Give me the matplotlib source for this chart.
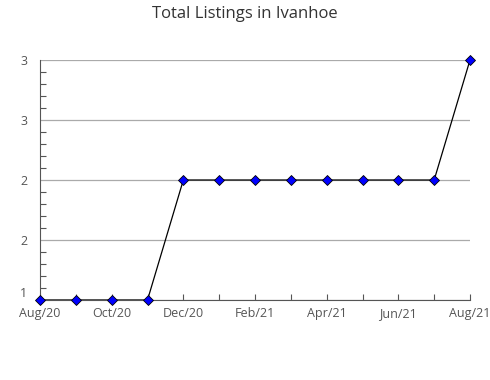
import matplotlib
matplotlib.use("Agg")
import matplotlib.pyplot as plt
from matplotlib.ticker import MultipleLocator

# Monthly listing counts
months = ["Aug/20", "Sep/20", "Oct/20", "Nov/20", "Dec/20", "Jan/21", "Feb/21",
          "Mar/21", "Apr/21", "May/21", "Jun/21", "Jul/21", "Aug/21"]
listings = [1, 1, 1, 1, 2, 2, 2, 2, 2, 2, 2, 2, 3]
ytick_vals = [1, 1.5, 2, 2.5, 3]
ytick_labels = ["1", "2", "2", "3", "3"]

plt.rcParams["font.family"] = ["Open Sans", "DejaVu Sans"]

fig = plt.figure(figsize=(4.9, 3.8), dpi=100)
ax = fig.add_axes([40 / 490, 80 / 380, 430 / 490, 240 / 380])

x = list(range(len(months)))
ax.plot(x, listings, color="black", linewidth=0.9, zorder=3)
ax.plot(x, listings, linestyle="none", marker="D", markersize=5.5,
        markerfacecolor="#0000ff", markeredgecolor="black", markeredgewidth=0.6,
        clip_on=False, zorder=4)

ax.set_xlim(0, len(months) - 1)
ax.set_ylim(1, 3)
ax.set_xticks(x)
ax.set_xticklabels([m if i % 2 == 0 else "" for i, m in enumerate(months)])
ax.set_yticks(ytick_vals)
ax.set_yticklabels(ytick_labels)
ax.yaxis.set_minor_locator(MultipleLocator(0.1))

ax.grid(axis="y", color="#aaaaaa", linewidth=0.9)
ax.set_axisbelow(True)
for side in ["top", "right"]:
    ax.spines[side].set_visible(False)
ax.spines["left"].set_color("#555555")
ax.spines["bottom"].set_color("#555555")

ax.tick_params(axis="both", which="both", direction="in", colors="#555555",
               labelcolor="#555555", labelsize=9, width=0.8)
ax.tick_params(axis="x", length=4, pad=5)
ax.tick_params(axis="y", which="major", length=0, pad=9)
ax.tick_params(axis="y", which="minor", length=4)
# lift the bottom "1" a little so it clears the first date label
ax.get_yticklabels()[0].set_va("bottom")

fig.suptitle("Total Listings in Ivanhoe", x=0.5, y=0.985, fontsize=12, color="#333333")

fig.savefig("out.png", dpi=100)
